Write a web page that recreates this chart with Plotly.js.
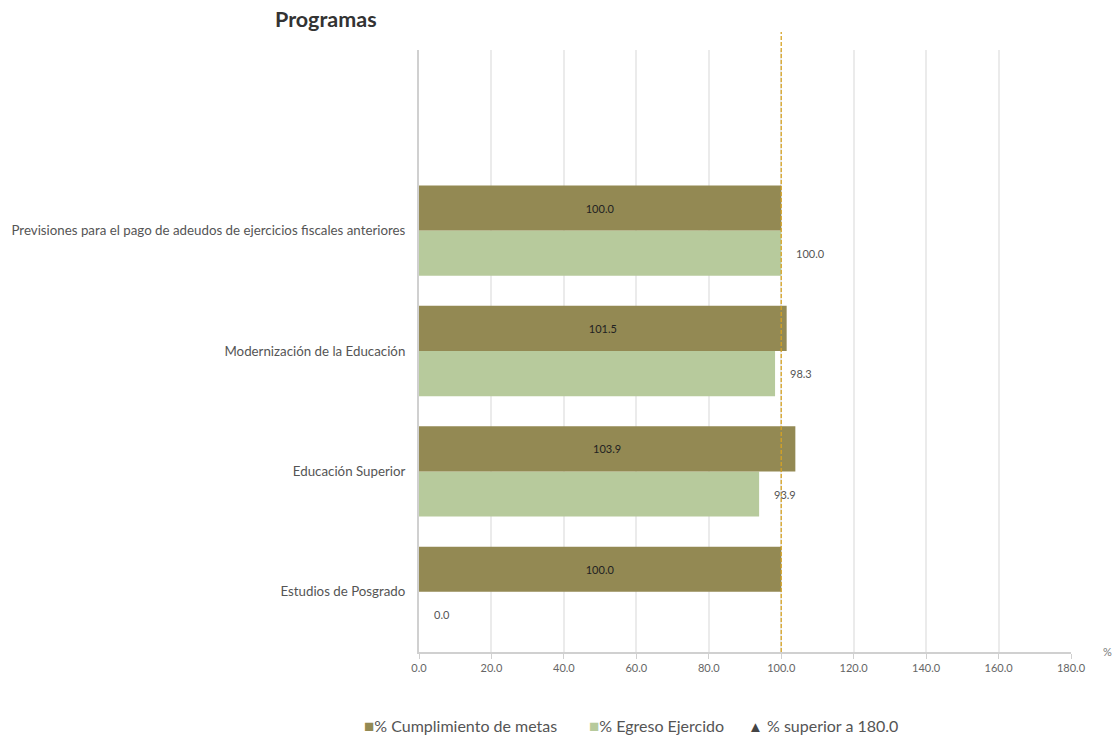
<!DOCTYPE html>
<html>
<head>
<meta charset="utf-8">
<script src="https://cdn.plot.ly/plotly-3.0.1.min.js"></script>
<style>html,body{margin:0;padding:0;background:#fff;}#chart{width:1112px;height:738px;}</style>
</head>
<body>
<div id="chart"></div>
<script>
const categories = [
  "Estudios de Posgrado",
  "Educación Superior",
  "Modernización de la Educación",
  "Previsiones para el pago de adeudos de ejercicios fiscales anteriores"
];
const cumplimientoMetas = [100.0, 103.9, 101.5, 100.0];
const egresoEjercido = [0.0, 93.9, 98.3, 100.0];
const xTicks = [0, 20, 40, 60, 80, 100, 120, 140, 160, 180];
const referenceValue = 100;
const maxValue = 180;
const seriesNames = ['% Cumplimiento de metas', '% Egreso Ejercido', '% superior a ' + maxValue.toFixed(1)];
const seriesColors = ['#938953', '#b7ca9c', '#444444'];

const pos = categories.map((c, i) => i);
const FONT = "Lato, 'Open Sans', sans-serif";

const traceEgreso = {
  type: 'bar', orientation: 'h', name: seriesNames[1],
  x: egresoEjercido, y: pos,
  marker: {color: seriesColors[1], line: {width: 0}},
  hoverinfo: 'x'
};
const traceCumpl = {
  type: 'bar', orientation: 'h', name: seriesNames[0],
  x: cumplimientoMetas, y: pos,
  text: cumplimientoMetas.map(v => v.toFixed(1)),
  textposition: 'inside', insidetextanchor: 'middle',
  textfont: {family: FONT, size: 11, color: '#222'},
  marker: {color: seriesColors[0], line: {width: 0}},
  hoverinfo: 'x'
};

const L = 419, R = 41, T = 50, B = 86, W = 1112, H = 738;
const annotations = egresoEjercido.map((v, i) => ({
  x: v, y: i - 0.19, xref: 'x', yref: 'y',
  text: v.toFixed(1), showarrow: false, xanchor: 'left', xshift: 13,
  font: {family: FONT, size: 11, color: '#555'}
}));
annotations.push({
  x: 1, y: 0, xref: 'paper', yref: 'paper', text: '%', showarrow: false,
  xanchor: 'left', yanchor: 'bottom', xshift: 30, yshift: -8,
  font: {family: FONT, size: 11, color: '#777'}
});
// legend built as text items (pixel positions converted to paper coords)
const legendX = [362, 587, 746];
const legendSymbols = ['■', '■', '▲'];
seriesNames.forEach((n, i) => {
  annotations.push({
    x: (legendX[i] - L) / (W - L - R), y: (H - 725 - B) / (H - T - B), xref: 'paper', yref: 'paper',
    showarrow: false, xanchor: 'left', yanchor: 'middle',
    text: '<span style="color:' + seriesColors[i] + ';font-size:' + (i === 2 ? 15 : 17) + 'px">' + legendSymbols[i] + '</span>' + (i === 2 ? ' ' : '') + n,
    font: {family: FONT, size: 16, color: '#555'}
  });
});

const layout = {
  width: W, height: H,
  margin: {l: L, r: R, t: T, b: B, autoexpand: false},
  paper_bgcolor: '#fff', plot_bgcolor: '#fff',
  font: {family: FONT, color: '#555'},
  title: {text: '<b>Programas</b>', x: 275/1112, xanchor: 'left', y: 1 - 19/738, yanchor: 'middle',
          font: {family: FONT, size: 21.5, color: '#333'}},
  barmode: 'group', bargap: 0.25, bargroupgap: 0,
  xaxis: {
    range: [0, maxValue], tickvals: xTicks, tickformat: '.1f',
    showgrid: true, gridcolor: '#ebebeb', gridwidth: 2,
    showline: true, linecolor: '#d0d0d0', linewidth: 2,
    ticks: 'outside', ticklen: 5, tickcolor: '#d0d0d0',
    tickfont: {family: FONT, size: 11, color: '#666'},
    zeroline: false, fixedrange: true
  },
  yaxis: {
    range: [-0.5, 4.5], tickvals: pos, ticktext: categories,
    showgrid: false, zeroline: false,
    showline: true, linecolor: '#d0d0d0', linewidth: 2,
    ticks: '', ticklabelstandoff: 9,
    tickfont: {family: FONT, size: 13.3, color: '#555'}, fixedrange: true
  },
  shapes: [{
    type: 'line', xref: 'x', yref: 'paper', x0: referenceValue, x1: referenceValue,
    y0: 0, y1: (H - 32 - B) / (H - T - B), line: {color: '#d6a324', width: 1.3, dash: '4px,2px'}, layer: 'above'
  }],
  annotations: annotations,
  showlegend: false
};

Plotly.newPlot('chart', [traceEgreso, traceCumpl], layout, {displayModeBar: false, staticPlot: true});
</script>
</body>
</html>
